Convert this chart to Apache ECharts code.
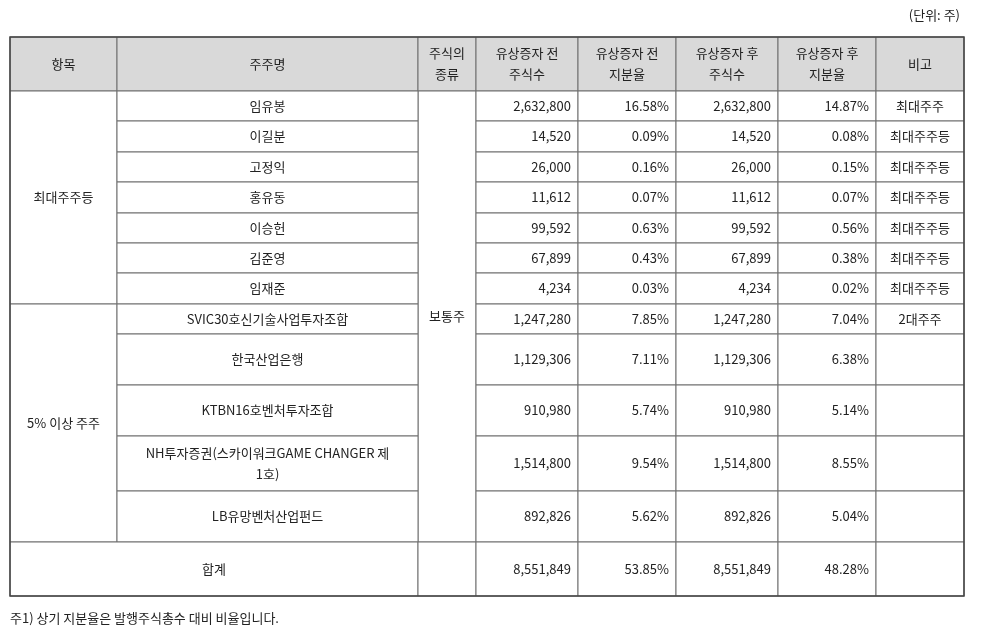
<!DOCTYPE html>
<html><head><meta charset="utf-8">
<script src="https://cdn.jsdelivr.net/npm/echarts@6/dist/echarts.min.js"></script>
<style>html,body{margin:0;background:#fff}#c{width:981px;height:632px}</style>
</head><body><div id="c"></div>
<script>
var headers = ["항목", "주주명", "주식의\n종류", "유상증자 전\n주식수", "유상증자 전\n지분율", "유상증자 후\n주식수", "유상증자 후\n지분율", "비고"];
var names = ["임유봉", "이길분", "고정익", "홍유동", "이승헌", "김준영", "임재준",
  "SVIC30호신기술사업투자조합", "한국산업은행", "KTBN16호벤처투자조합",
  "NH투자증권(스카이워크GAME CHANGER 제\n1호)", "LB유망벤처산업펀드"];
var sharesBefore = ["2,632,800", "14,520", "26,000", "11,612", "99,592", "67,899", "4,234",
  "1,247,280", "1,129,306", "910,980", "1,514,800", "892,826"];
var ratioBefore = ["16.58%", "0.09%", "0.16%", "0.07%", "0.63%", "0.43%", "0.03%",
  "7.85%", "7.11%", "5.74%", "9.54%", "5.62%"];
var sharesAfter = ["2,632,800", "14,520", "26,000", "11,612", "99,592", "67,899", "4,234",
  "1,247,280", "1,129,306", "910,980", "1,514,800", "892,826"];
var ratioAfter = ["14.87%", "0.08%", "0.15%", "0.07%", "0.56%", "0.38%", "0.02%",
  "7.04%", "6.38%", "5.14%", "8.55%", "5.04%"];
var notes = ["최대주주", "최대주주등", "최대주주등", "최대주주등", "최대주주등", "최대주주등", "최대주주등", "2대주주", "", "", "", ""];
var groups = [["최대주주등", 0, 6], ["5% 이상 주주", 7, 11]];
var totalRow = ["합계", "8,551,849", "53.85%", "8,551,849", "48.28%"];
var stockType = "보통주";
var unitText = "(단위: 주)";
var footnote = "주1) 상기 지분율은 발행주식총수 대비 비율입니다.";

var colX = [10, 117, 418, 476, 578, 676, 778, 876, 964];
var rowY = [37, 91, 121, 152, 182, 213, 243, 273, 304, 334, 385, 436, 491, 542, 596];
var FONT = '"Noto Sans CJK KR", sans-serif';
var els = [];
function cell(c0, c1, r0, r1, text, align, fill) {
  var x = colX[c0], y = rowY[r0], w = colX[c1 + 1] - x, h = rowY[r1 + 1] - y;
  els.push({type: 'rect', shape: {x: x, y: y, width: w, height: h},
    style: {fill: fill || '#fff', stroke: '#6e6e6e', lineWidth: 1}});
  if (text) {
    var tx = align === 'right' ? x + w - 7 : x + w / 2;
    els.push({type: 'text', x: tx, y: y + h / 2, z: 2,
      style: {text: text, fill: '#222', font: '13px ' + FONT, align: align || 'center',
        verticalAlign: 'middle', lineHeight: 21}});
  }
}
headers.forEach(function (h, i) { cell(i, i, 0, 0, h, 'center', '#d9d9d9'); });
groups.forEach(function (g) { cell(0, 0, g[1] + 1, g[2] + 1, g[0]); });
cell(2, 2, 1, 12, stockType);
names.forEach(function (n, i) {
  var r = i + 1;
  cell(1, 1, r, r, n);
  cell(3, 3, r, r, sharesBefore[i], 'right');
  cell(4, 4, r, r, ratioBefore[i], 'right');
  cell(5, 5, r, r, sharesAfter[i], 'right');
  cell(6, 6, r, r, ratioAfter[i], 'right');
  cell(7, 7, r, r, notes[i]);
});
cell(0, 1, 13, 13, totalRow[0]);
cell(2, 2, 13, 13, '');
for (var k = 1; k < 5; k++) cell(k + 2, k + 2, 13, 13, totalRow[k], 'right');
cell(7, 7, 13, 13, '');
els.push({type: 'rect', shape: {x: 10, y: 37, width: 954, height: 559},
  style: {fill: 'none', stroke: '#444', lineWidth: 1.5}, z: 3});
els.push({type: 'text', x: 960, y: 15, style: {text: unitText, font: '13px ' + FONT, fill: '#222', align: 'right', verticalAlign: 'middle'}});
els.push({type: 'text', x: 10, y: 618, style: {text: footnote, font: '13px ' + FONT, fill: '#222', align: 'left', verticalAlign: 'middle'}});

var chart = echarts.init(document.getElementById('c'));
chart.setOption({animation: false, graphic: {elements: els}});
</script></body></html>
